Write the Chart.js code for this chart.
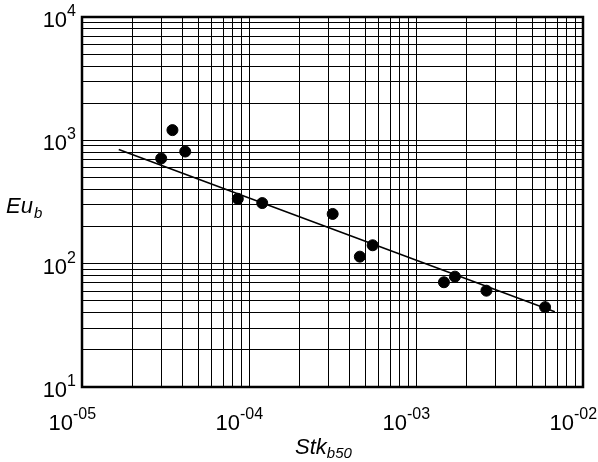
<!DOCTYPE html>
<html>
<head>
<meta charset="utf-8">
<script src="https://cdn.jsdelivr.net/npm/chart.js@4/dist/chart.umd.min.js"></script>
<style>
html,body{margin:0;padding:0;background:#fff}
#wrap{width:598px;height:462px;position:relative}
</style>
</head>
<body>
<div id="wrap"><canvas id="c"></canvas></div>
<script>
// ── data ──
var stk=[2.98e-5,3.48e-5,4.15e-5,8.57e-5,1.20e-4,3.17e-4,4.61e-4,5.5e-4,1.47e-3,1.71e-3,2.64e-3,5.93e-3];
var eu=[713,1210,811,336,310,253,114,141,70.7,78.5,60.4,44.4];
var fitX=[1.66e-5,6.78e-3];
var fitY=[843,40.8];
var xExp=['-05','-04','-03','-02'];
var yExp=['1','2','3','4'];
var xDec=[-5,-4,-3,-2];
var yDec=[1,2,3,4];

var FONT='"Liberation Sans", Arial, sans-serif';

// log grid: 1..9 in each decade
function gridTicks(dec){
  var t=[];
  for(var i=0;i<dec.length;i++){
    var b=Math.pow(10,dec[i]);
    if(i==dec.length-1){t.push({value:b});break;}
    for(var k=1;k<10;k++)t.push({value:k*b});
  }
  return t;
}

// "10" + raised exponent; y = baseline of the "10"
function pow10(ctx,x,y,base,exp,align){
  ctx.font='22px '+FONT;
  var wb=ctx.measureText(base).width;
  ctx.font='16px '+FONT;
  var we=ctx.measureText(exp).width;
  var x0=align=='right'?x-wb-we:x-wb;
  ctx.textAlign='left';ctx.textBaseline='alphabetic';
  ctx.font='22px '+FONT;ctx.fillText(base,x0,y);
  ctx.font='16px '+FONT;ctx.fillText(exp,x0+wb,y-11);
}

var deco={
  id:'deco',
  afterDraw:function(ch){
    var ctx=ch.ctx,a=ch.chartArea,xs=ch.scales.x,ys=ch.scales.y;
    ctx.save();
    // frame
    ctx.strokeStyle='#000';ctx.lineWidth=2.5;
    ctx.strokeRect(a.left,a.top,a.right-a.left,a.bottom-a.top);
    ctx.fillStyle='#000';
    // y tick labels
    yDec.forEach(function(d,i){
      var py=ys.getPixelForValue(Math.pow(10,d));
      pow10(ctx,a.left-6,py+10,'10',yExp[i],'right');
    });
    // x tick labels
    xDec.forEach(function(d,i){
      var px=xs.getPixelForValue(Math.pow(10,d));
      pow10(ctx,px-9,a.bottom+43,'10',xExp[i],'left');
    });
    // axis titles
    ctx.textAlign='left';ctx.textBaseline='alphabetic';
    ctx.font='italic 22px '+FONT;
    ctx.fillText('Eu',6,213);
    var w=ctx.measureText('Eu').width;
    ctx.font='italic 15px '+FONT;
    ctx.fillText('b',6+w+1,218);
    ctx.font='italic 22px '+FONT;
    ctx.fillText('Stk',295,454);
    w=ctx.measureText('Stk').width;
    ctx.font='italic 15px '+FONT;
    ctx.fillText('b50',295+w,458);
    ctx.restore();
  }
};

new Chart(document.getElementById('c'),{
  type:'scatter',
  data:{datasets:[
    {label:'fit',data:fitX.map(function(v,i){return{x:v,y:fitY[i]};}),showLine:true,borderColor:'#000',borderWidth:1.5,pointRadius:0,order:2},
    {label:'Eu',data:stk.map(function(v,i){return{x:v,y:eu[i]};}),backgroundColor:'#000',borderColor:'#000',pointRadius:5.5,pointHoverRadius:5.5,order:1}
  ]},
  options:{
    responsive:true,maintainAspectRatio:false,animation:false,
    layout:{padding:{left:82,right:15,top:17,bottom:75}},
    plugins:{legend:{display:false},tooltip:{enabled:false}},
    scales:{
      x:{type:'logarithmic',min:1e-5,max:1e-2,
        afterBuildTicks:function(s){s.ticks=gridTicks(xDec);},
        ticks:{display:false},
        grid:{color:'#000',lineWidth:1,drawTicks:false},
        border:{display:false}},
      y:{type:'logarithmic',min:10,max:1e4,
        afterBuildTicks:function(s){s.ticks=gridTicks(yDec);},
        ticks:{display:false},
        grid:{color:'#000',lineWidth:1,drawTicks:false},
        border:{display:false}}
    }
  },
  plugins:[deco]
});
</script>
</body>
</html>
